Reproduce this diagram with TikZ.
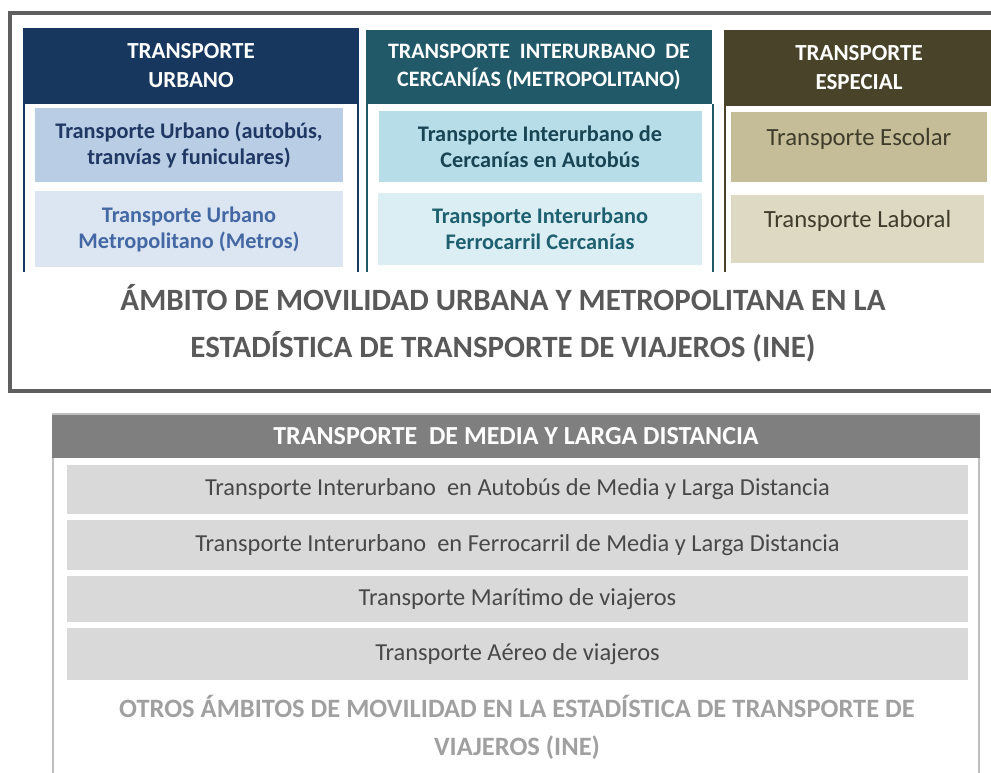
\documentclass[tikz,border=0pt]{standalone}
\usepackage{fontspec}
\setmainfont{Carlito}
\usetikzlibrary{positioning}
\definecolor{urbanhead}{RGB}{23, 55, 94}
\definecolor{urbanfillA}{RGB}{185, 205, 229}
\definecolor{urbanfillB}{RGB}{220, 230, 242}
\definecolor{urbantextA}{RGB}{31, 56, 100}
\definecolor{urbantextB}{RGB}{68, 104, 164}
\definecolor{interhead}{RGB}{33, 89, 104}
\definecolor{interfillA}{RGB}{183, 222, 232}
\definecolor{interfillB}{RGB}{218, 238, 243}
\definecolor{intertextA}{RGB}{24, 68, 84}
\definecolor{intertextB}{RGB}{30, 96, 112}
\definecolor{espechead}{RGB}{73, 68, 41}
\definecolor{specfillA}{RGB}{196, 189, 151}
\definecolor{specfillB}{RGB}{221, 217, 195}
\definecolor{spectext}{RGB}{64, 60, 44}
\definecolor{framegray}{RGB}{95, 95, 95}
\definecolor{titlegray}{RGB}{89, 89, 89}
\definecolor{longhead}{RGB}{127, 127, 127}
\definecolor{longfill}{RGB}{217, 217, 217}
\definecolor{longtext}{RGB}{72, 72, 72}
\definecolor{othergray}{RGB}{160, 160, 160}
\definecolor{lightframe}{RGB}{191, 191, 191}

\begin{document}
\begin{tikzpicture}[
        x=1pt, y=-1pt,
        head/.style={rectangle, inner sep=0pt, outer sep=0pt, align=center, text=white, font=\bfseries\fontsize{23}{29}\selectfont},
        item/.style={rectangle, inner sep=0pt, outer sep=0pt, align=center, font=\bfseries\fontsize{22.3}{26}\selectfont},
        specitem/.style={rectangle, inner sep=0pt, outer sep=0pt, align=center, text=spectext, text depth=20pt, font=\fontsize{24.7}{28}\selectfont},
        row/.style={rectangle, inner sep=0pt, outer sep=0pt, align=center, fill=longfill, text=longtext, minimum width=901, font=\fontsize{24.4}{28}\selectfont},
        side/.style={line width=1.2pt}
    ]
        \useasboundingbox (0,0) rectangle (991,773);

        % Upper frame: urban and metropolitan
        \draw[framegray, line width=4pt] (10,13) rectangle (1010,391);

        % Column 1: urbano
        \node[head, fill=urbanhead, minimum width=336, minimum height=76] (urbhead) at (191,66) {TRANSPORTE\\URBANO};
        \node[item, fill=urbanfillA, text=urbantextA, minimum width=308, minimum height=74] (urbbus) at (189,145) {Transporte Urbano (autobús,\\tranvías y funiculares)};
        \node[item, fill=urbanfillB, text=urbantextB, minimum width=308, minimum height=76] (urbmetro) at (189,229) {Transporte Urbano\\Metropolitano (Metros)};
        \draw[side, urbanhead] (urbhead.south west) ++(1,0) -- ++(0,168);
        \draw[side, urbanhead] (urbhead.south east) ++(-1,0) -- ++(0,168);

        % Column 2: interurbano de cercanias
        \node[head, fill=interhead, minimum width=346, minimum height=74, font=\bfseries\fontsize{22}{28}\selectfont] (interhd) at (539,67) {TRANSPORTE\ \ INTERURBANO\ \ DE\\CERCANÍAS (METROPOLITANO)};
        \node[item, fill=interfillA, text=intertextA, minimum width=323, minimum height=71] (interbus) at (540,146.5) {Transporte Interurbano de\\Cercanías en Autobús};
        \node[item, fill=interfillB, text=intertextB, minimum width=324, minimum height=72] (intertren) at (540,229) {Transporte Interurbano\\Ferrocarril Cercanías};
        \draw[side, interhead] (interhd.south west) ++(1,0) -- ++(0,168);
        \draw[side, interhead] (interhd.south east) ++(1,0) -- ++(0,168);

        % Column 3: especial
        \node[head, fill=espechead, minimum width=270, minimum height=76] (spechead) at (859,68) {TRANSPORTE\\ESPECIAL};
        \node[specitem, fill=specfillA, minimum width=256, minimum height=70] (specschool) at (859,147) {Transporte Escolar};
        \node[specitem, fill=specfillB, minimum width=253, minimum height=68] (specwork) at (857.5,229) {Transporte Laboral};
        \draw[side, espechead] (spechead.south west) ++(1,0) -- ++(0,166);

        % Title of the upper frame
        \node[align=center, text=titlegray, font=\bfseries\fontsize{31}{47}\selectfont] (urbtitle) at (503,323) {ÁMBITO DE MOVILIDAD URBANA Y METROPOLITANA EN LA\\ESTADÍSTICA DE TRANSPORTE DE VIAJEROS (INE)};

        % Lower frame: long distance
        \node[head, fill=longhead, minimum width=928, minimum height=44, font=\bfseries\fontsize{26}{28}\selectfont] (longhd) at (516,436) {TRANSPORTE\ \ DE MEDIA Y LARGA DISTANCIA};
        \draw[lightframe, line width=1.5pt] (longhd.north west) -- (longhd.north east);
        \draw[lightframe, line width=1.5pt] (longhd.south west) ++(1,0) -- ++(0,320);
        \draw[lightframe, line width=1.5pt] (longhd.south east) ++(-1,0) -- ++(0,320);
        \node[row, minimum height=49] (longbus) at (517.5,489.5) {Transporte Interurbano\ \ en Autobús de Media y Larga Distancia};
        \node[row, minimum height=50] (longtren) at (517.5,545) {Transporte Interurbano\ \ en Ferrocarril de Media y Larga Distancia};
        \node[row, minimum height=46] (longmar) at (517.5,599) {Transporte Marítimo de viajeros};
        \node[row, minimum height=52] (longair) at (517.5,654) {Transporte Aéreo de viajeros};

        % Title of the lower frame
        \node[align=center, text=othergray, font=\bfseries\fontsize{26.5}{38}\selectfont] (othertitle) at (517,727) {OTROS ÁMBITOS DE MOVILIDAD EN LA ESTADÍSTICA DE TRANSPORTE DE\\VIAJEROS (INE)};
    \end{tikzpicture}
\end{document}
